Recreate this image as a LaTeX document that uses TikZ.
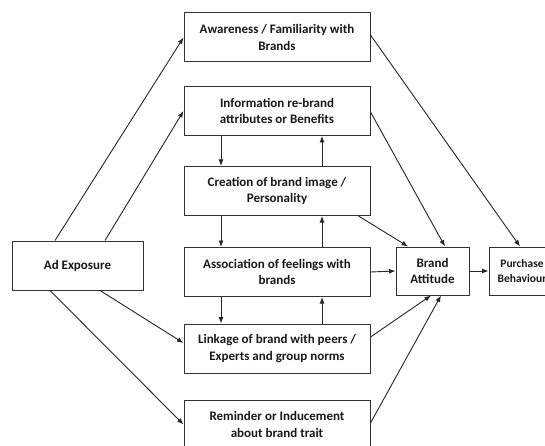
\documentclass[tikz,border=0pt]{standalone}
\usepackage{fontspec}
\setmainfont{Carlito}
\usetikzlibrary{arrows.meta}
\begin{document}
\begin{tikzpicture}[x=1pt,y=-1pt,
  box/.style={draw=black!80, line width=1pt, rectangle, align=center,
    font=\bfseries\fontsize{13}{16.5}\selectfont, inner sep=0pt, text=black!90},
  mid/.style={box, minimum width=186pt, minimum height=49pt},
  arr/.style={-{Latex[length=6.5pt,width=5pt]}, line width=0.9pt, draw=black!85}]
\useasboundingbox (0,0) rectangle (545,446);
\clip (0,0) rectangle (545,446);
\fill[white] (0,0) rectangle (545,446);
% nodes
\node[mid] (aware) at (277,37.5) {Awareness / Familiarity with\\Brands};
\node[mid] (info) at (277,111) {Information re-brand\\attributes or Benefits};
\node[mid] (crea) at (277,191) {Creation of brand image /\\Personality};
\node[mid] (assoc) at (277,272) {Association of feelings with\\brands};
\node[mid] (link) at (277,348.5) {Linkage of brand with peers /\\Experts and group norms};
\node[mid] (rem) at (277,424.5) {Reminder or Inducement\\about brand trait};
\node[box, minimum width=131pt, minimum height=49pt] (ad) at (77.5,265.5) {Ad Exposure};
\node[box, minimum width=73pt, minimum height=48pt] (ba) at (432.5,271) {Brand\\Attitude};
\node[box, minimum width=66pt, minimum height=48pt,
  font=\bfseries\fontsize{11.5}{15}\selectfont] (purch) at (522,271) {Purchase\\Behaviour};
% from Ad Exposure
\draw[arr] ([xshift=-22.5pt]ad.north) -- (aware.west);
\draw[arr] ([xshift=27.5pt]ad.north) -- (info.west);
\draw[arr] ([xshift=22.5pt]ad.south) -- ([yshift=5.5pt]link.west);
\draw[arr] ([xshift=-27.5pt]ad.south) -- (rem.west);
% to Brand Attitude / Purchase
\draw[arr] ([yshift=2.5pt]aware.east) -- ([xshift=-2pt]purch.north);
\draw[arr] ([yshift=-1pt]info.east) -- ([xshift=12.5pt]ba.north);
\draw[arr] ([xshift=-12pt]crea.south east) -- ([xshift=-24.5pt]ba.north);
\draw[arr] (assoc.east) -- (ba.west);
\draw[arr] (ba.east) -- (purch.west);
\draw[arr] ([yshift=11.5pt]link.east) -- ([xshift=-1.5pt]ba.south);
\draw[arr] ([yshift=1.5pt]rem.east) -- ([xshift=8.5pt]ba.south);
% vertical links in the middle column
\draw[arr] ([xshift=-56pt]info.south) -- ([xshift=-56pt]crea.north);
\draw[arr] ([xshift=45pt]crea.north) -- ([xshift=45pt]info.south);
\draw[arr] ([xshift=-56pt]crea.south) -- ([xshift=-56pt]assoc.north);
\draw[arr] ([xshift=45pt]assoc.north) -- ([xshift=45pt]crea.south);
\draw[arr] ([xshift=-56pt]assoc.south) -- ([xshift=-56pt]link.north);
\draw[arr] ([xshift=45pt]link.north) -- ([xshift=45pt]assoc.south);
\end{tikzpicture}
\end{document}
